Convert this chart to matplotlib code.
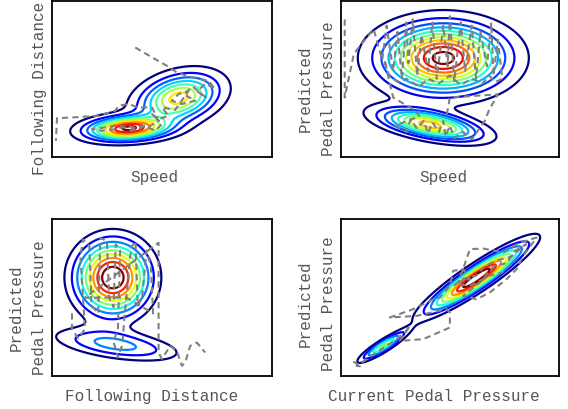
import numpy as np
import matplotlib.pyplot as plt

plt.rcParams["font.family"] = ["Liberation Mono", "DejaVu Sans Mono"]

# panel labels
x_labels = ["Speed", "Speed", "Following Distance", "Current Pedal Pressure"]
y_labels = ["Following Distance", "Predicted\nPedal Pressure",
            "Predicted\nPedal Pressure", "Predicted\nPedal Pressure"]

# gaussian mixtures per panel (normalised axis units 0..1)
speed_dist_mx = [0.30, 0.39, 0.576]
speed_dist_my = [0.178, 0.186, 0.376]
speed_dist_sx = [0.105, 0.105, 0.11]
speed_dist_sy = [0.047, 0.047, 0.095]
speed_dist_rho = [0.15, 0.15, 0.3]
speed_dist_w = [0.21, 0.21, 0.58]

speed_pred_mx = [0.47, 0.41]
speed_pred_my = [0.633, 0.205]
speed_pred_sx = [0.17, 0.14]
speed_pred_sy = [0.133, 0.062]
speed_pred_rho = [0.0, -0.55]
speed_pred_w = [0.81, 0.19]

dist_pred_mx = [0.277, 0.294]
dist_pred_my = [0.628, 0.20]
dist_pred_sx = [0.106, 0.185]
dist_pred_sy = [0.149, 0.068]
dist_pred_rho = [0.0, -0.5]
dist_pred_w = [0.81, 0.19]

cur_pred_mx = [0.622, 0.195]
cur_pred_my = [0.626, 0.193]
cur_pred_sx = [0.133, 0.064]
cur_pred_sy = [0.128, 0.058]
cur_pred_rho = [0.92, 0.9]
cur_pred_w = [0.89, 0.11]

# observed trajectories (dashed)
traj1_x = [0.379, 0.455, 0.523, 0.568, 0.636, 0.712, 0.742, 0.700, 0.660, 0.700,
           0.640, 0.600, 0.652, 0.590, 0.545, 0.576, 0.620, 0.560, 0.500, 0.530,
           0.485, 0.455, 0.500, 0.470, 0.420, 0.394, 0.348, 0.288, 0.227, 0.182,
           0.258, 0.300, 0.364, 0.400, 0.440, 0.485, 0.455, 0.394, 0.348, 0.303,
           0.288, 0.212, 0.091, 0.023, 0.018]
traj1_y = [0.700, 0.637, 0.583, 0.540, 0.509, 0.487, 0.434, 0.470, 0.420, 0.380,
           0.450, 0.400, 0.359, 0.338, 0.359, 0.402, 0.420, 0.300, 0.316, 0.263,
           0.241, 0.274, 0.209, 0.167, 0.200, 0.177, 0.199, 0.177, 0.167, 0.177,
           0.192, 0.205, 0.167, 0.200, 0.192, 0.231, 0.316, 0.316, 0.338, 0.327,
           0.295, 0.263, 0.252, 0.248, 0.103]

traj2_x = [0.018, 0.018, 0.060, 0.150, 0.190, 0.210, 0.240, 0.260, 0.280, 0.300,
           0.310, 0.330, 0.350, 0.370, 0.400, 0.420, 0.440, 0.470, 0.490, 0.500,
           0.520, 0.550, 0.570, 0.600, 0.620, 0.640, 0.670, 0.690, 0.700, 0.720,
           0.740, 0.710, 0.680, 0.650, 0.600, 0.550, 0.500, 0.450, 0.400, 0.360,
           0.300, 0.260, 0.220, 0.200, 0.240, 0.300, 0.340, 0.360, 0.250, 0.300,
           0.320, 0.350, 0.380, 0.400, 0.420, 0.450, 0.470, 0.480, 0.500, 0.520,
           0.560, 0.600, 0.630, 0.660, 0.680, 0.720, 0.500, 0.490, 0.480]
traj2_y = [0.880, 0.380, 0.660, 0.820, 0.620, 0.840, 0.550, 0.800, 0.500, 0.860,
           0.600, 0.880, 0.520, 0.780, 0.550, 0.860, 0.500, 0.840, 0.580, 0.900,
           0.480, 0.860, 0.550, 0.840, 0.500, 0.800, 0.580, 0.860, 0.520, 0.750,
           0.500, 0.480, 0.520, 0.470, 0.500, 0.460, 0.520, 0.470, 0.500, 0.450,
           0.500, 0.480, 0.520, 0.620, 0.380, 0.330, 0.300, 0.260, 0.200, 0.160,
           0.240, 0.180, 0.230, 0.150, 0.220, 0.160, 0.230, 0.130, 0.200, 0.120,
           0.160, 0.110, 0.170, 0.230, 0.300, 0.400, 0.380, 0.300, 0.250]

traj3_x = [0.091, 0.091, 0.120, 0.150, 0.130, 0.140, 0.170, 0.180, 0.210, 0.220,
           0.250, 0.260, 0.280, 0.290, 0.310, 0.300, 0.280, 0.300, 0.320, 0.330,
           0.360, 0.380, 0.390, 0.410, 0.430, 0.450, 0.460, 0.340, 0.150, 0.485,
           0.485, 0.500, 0.538, 0.568, 0.591, 0.606, 0.629, 0.659, 0.697]
traj3_y = [0.400, 0.300, 0.240, 0.300, 0.750, 0.870, 0.830, 0.450, 0.400, 0.880,
           0.860, 0.500, 0.440, 0.840, 0.800, 0.300, 0.220, 0.120, 0.200, 0.380,
           0.820, 0.860, 0.450, 0.500, 0.800, 0.700, 0.400, 0.500, 0.500, 0.850,
           0.150, 0.110, 0.193, 0.161, 0.066, 0.087, 0.193, 0.214, 0.151]

traj4_x = [0.057, 0.095, 0.072, 0.118, 0.164, 0.209, 0.255, 0.294, 0.317, 0.271,
           0.378, 0.500, 0.500, 0.485, 0.347, 0.225, 0.332, 0.424, 0.454, 0.500,
           0.515, 0.561, 0.592, 0.540, 0.592, 0.653, 0.745, 0.821, 0.898, 0.836,
           0.806, 0.760, 0.683, 0.622, 0.561, 0.640, 0.700, 0.760, 0.800, 0.850,
           0.780, 0.720, 0.660, 0.620, 0.560, 0.520, 0.600, 0.680, 0.740, 0.800]
traj4_y = [0.093, 0.062, 0.066, 0.108, 0.151, 0.193, 0.236, 0.278, 0.321, 0.225,
           0.236, 0.310, 0.406, 0.427, 0.384, 0.374, 0.427, 0.490, 0.501, 0.575,
           0.671, 0.682, 0.618, 0.600, 0.809, 0.813, 0.788, 0.851, 0.883, 0.766,
           0.682, 0.618, 0.533, 0.490, 0.512, 0.600, 0.700, 0.720, 0.800, 0.840,
           0.760, 0.740, 0.700, 0.640, 0.620, 0.580, 0.580, 0.640, 0.660, 0.740]

panels = [
    (speed_dist_mx, speed_dist_my, speed_dist_sx, speed_dist_sy, speed_dist_rho, speed_dist_w, traj1_x, traj1_y),
    (speed_pred_mx, speed_pred_my, speed_pred_sx, speed_pred_sy, speed_pred_rho, speed_pred_w, traj2_x, traj2_y),
    (dist_pred_mx, dist_pred_my, dist_pred_sx, dist_pred_sy, dist_pred_rho, dist_pred_w, traj3_x, traj3_y),
    (cur_pred_mx, cur_pred_my, cur_pred_sx, cur_pred_sy, cur_pred_rho, cur_pred_w, traj4_x, traj4_y),
]

# contour level spans (fraction of peak) and count
level_span = [(0.07, 0.97, 10), (0.07, 0.96, 11), (0.115, 0.90, 9), (0.09, 0.90, 9)]


def mixture(X, Y, mx, my, sx, sy, rho, w):
    Z = np.zeros_like(X)
    for i in range(len(w)):
        dx = (X - mx[i]) / sx[i]
        dy = (Y - my[i]) / sy[i]
        r2 = 1 - rho[i] ** 2
        q = (dx ** 2 - 2 * rho[i] * dx * dy + dy ** 2) / r2
        Z += w[i] / (2 * np.pi * sx[i] * sy[i] * np.sqrt(r2)) * np.exp(-q / 2)
    return Z


fig = plt.figure(figsize=(5.68, 4.10), dpi=100)
boxes = [
    [0.0915, 0.615, 0.387, 0.381],
    [0.600, 0.615, 0.384, 0.381],
    [0.0915, 0.080, 0.387, 0.383],
    [0.600, 0.080, 0.384, 0.383],
]
xlabel_x = [0.468, 0.47, 0.455, 0.427]
ylabel_y = [0.442, 0.442, 0.44, 0.47]

g = np.linspace(0, 1, 400)
X, Y = np.meshgrid(g, g)

for k, (mx, my, sx, sy, rho, w, tx, ty) in enumerate(panels):
    ax = fig.add_axes(boxes[k])
    Z = mixture(X, Y, mx, my, sx, sy, rho, w)
    lo, hi, n = level_span[k]
    levels = np.linspace(lo, hi, n) * Z.max()
    ax.contour(X, Y, Z, levels=levels, cmap="jet", linewidths=1.6)
    ax.plot(tx, ty, color="gray", linestyle="--", lw=1.5, dashes=(3, 2))
    ax.set_xlim(0, 1)
    ax.set_ylim(0, 1)
    ax.set_xticks([])
    ax.set_yticks([])
    for s in ax.spines.values():
        s.set_linewidth(1.3)
    ax.set_xlabel(x_labels[k], fontsize=11.5, color="#555555")
    ax.set_ylabel(y_labels[k], fontsize=11.5, color="#555555", linespacing=1.65)
    ax.xaxis.set_label_coords(xlabel_x[k], -0.075)
    ax.yaxis.set_label_coords(-0.024, ylabel_y[k])

fig.savefig("out.png", dpi=100)
